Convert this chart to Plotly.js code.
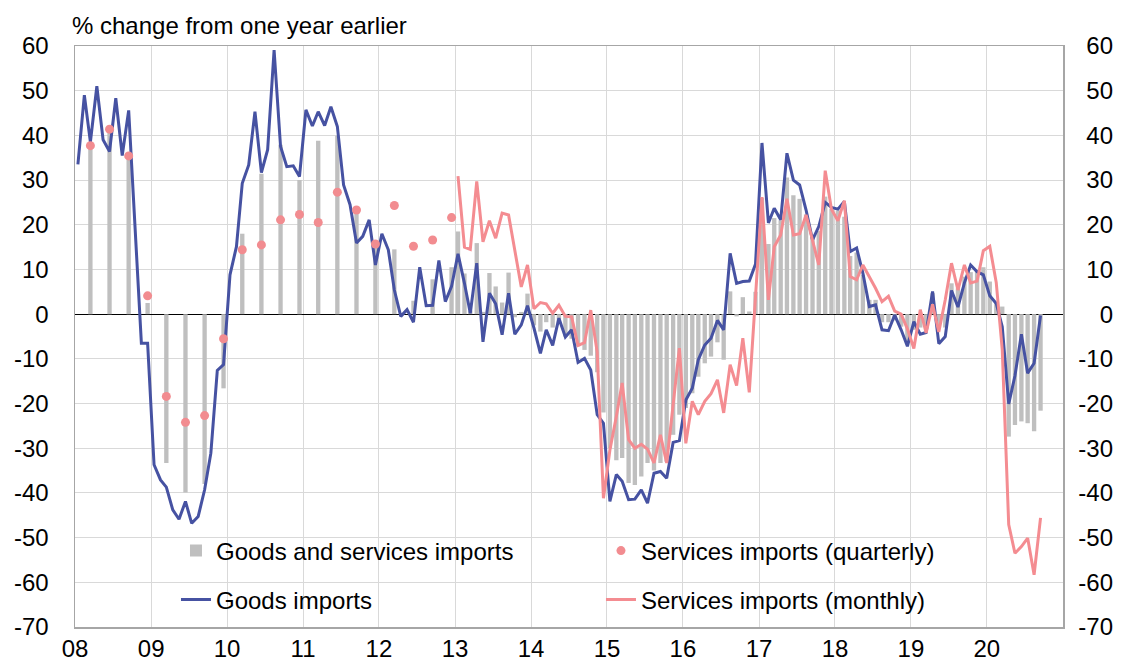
<!DOCTYPE html>
<html><head><meta charset="utf-8">
<script src="https://cdn.plot.ly/plotly-3.0.1.min.js"></script>
<style>html,body{margin:0;padding:0;background:#fff}#chart{width:1125px;height:664px}</style>
</head><body><div id="chart"></div>
<script>
// ---- data ----
const goodsStart = [2008, 1];
const goodsImports = [
  33.5, 49, 38.5, 51, 39, 36.4, 48.3, 35.5, 45.6, 19.5, -6.5, -6.5,
  -33.7, -37.1, -38.7, -43.8, -45.9, -41.9, -46.8, -45.3, -39.3, -31.1, -12.6, -11.3,
  8.8, 15.1, 29.3, 33.4, 45.3, 31.7, 36.8, 59.1, 37.5, 33, 33.2, 30.8,
  45.7, 42.1, 45.3, 42.2, 46.4, 42, 28.9, 24.5, 15.9, 17.4, 21.1, 11,
  18, 14.4, 5.4, -0.5, 1, -1.8, 10.5, 1.9, 2, 12, 2.8, 6.2,
  13.5, 6.9, 0.2, 11.4, -6.2, 4.7, 2.3, -4.6, 4.7, -4.5, -2.4, 1.9,
  -3.1, -8.8, -3.5, -7, -0.9, -5.1, -3.5, -10.8, -9.9, -12.5, -22.5, -24.4,
  -41.9, -35.9, -37.4, -41.5, -41.4, -39.3, -42.3, -35.6, -35.2, -36.7, -28.7, -28.3,
  -19.2, -16.6, -10.2, -6.9, -5.4, -1.4, -3.5, 13.6, 6.9, 7.3, 7.4, 11.2,
  38.3, 20.4, 23.7, 21.1, 36, 30, 28.9, 23.3, 16.6, 19.6, 25, 23.9,
  23.5, 25.2, 14, 14.8, 9.2, 1.7, 2.1, -3.5, -3.7, -0.2, -3.5, -7.2,
  -1.7, -4.5, -4.1, 5.1, -6.6, -5, 5.3, 1.6, 7, 11, 9.5, 8.8,
  4.1, 2.4, -2.8, -20.1, -13.8, -4.5, -13.2, -11, -0.3
];
const servicesMonthlyStart = [2013, 1];
const servicesMonthly = [
  30.9, 15, 14.5, 29.7, 16.2, 20.9, 17, 22.6, 22.2, 14, 6.1, 11,
  1.2, 2.6, 2.3, 0.2, 2, -0.5, -0.6, -7, -6.4, 0.9, -8.5, -41.2,
  -30.4, -22.9, -15.4, -28.1, -30, -29.1, -30.2, -33.3, -27, -33.3, -20.7, -7.6,
  -28.9, -19.5, -22.5, -19.5, -17.8, -14.7, -22.1, -11.3, -16, -5.4, -17.5, 4,
  26.2, 3.2, 15.1, 17.7, 25.8, 17.7, 18, 22.2, 16.6, 11, 32.1, 23.5,
  20.9, 25.4, 8.4, 7.7, 11, 8.4, 5.8, 2.8, 4, 0.7, 0, -3.3,
  -7.7, 1, -4.2, 2.2, -4, 3.2, 11.4, 5.4, 11, 7, 7.4, 14.2,
  15.2, 7.1, -8, -47.1, -53.5, -52, -50.1, -58.3, -45.6
];
const quarterlyStart = 2008;
const servicesQuarterly = [37.7, 41.4, 35.4, 4.1, -18.4, -24.2, -22.7, -5.5, 14.4, 15.5, 21.1, 22.3, 20.5, 27.3, 23.3, 15.7, 24.3, 15.2, 16.6, 21.6];
const gsQuarterly = [38, 41, 36, 2.5, -33.3, -39.9, -38, -16.6, 18, 31.4, 37.9, 30, 38.8, 39.9, 23.3, 15, 14.5, 3, 7.8, 10.5];
const gsMonthlyStart = [2013, 1];
const gsMonthly = [
  18.5, 9.1, 0.8, 15.9, 0.5, 9.2, 6.2, 2.6, 9.3, -0.7, 0.5, 4.6,
  -2.5, -3.9, -1.8, -3, -2, -5, -5.5, -7.2, -8, -9.3, -13, -22,
  -30, -32.7, -32.2, -37.8, -38.2, -36.3, -33.3, -35, -33.3, -33, -27, -22.5,
  -21, -17.7, -14, -11, -9.5, -6.3, -10.2, 5.1, -0.5, 3.8, 0.6, 5,
  26, 15.7, 21.5, 21, 30.6, 26.6, 25.8, 22.3, 17.8, 18.6, 26.3, 23.6,
  23.2, 21.8, 13, 13.8, 8.8, 3.2, 3.2, -1.8, -1.8, -1.4, -2.8, -6,
  -3.5, -3, -2.8, 4.7, -3, -3, 6.9, 5.8, 8.4, 9.4, 9.9, 10.5,
  7.3, 2.8, 1.7, -27.4, -24.8, -24, -24.4, -26.2, -21.6
];
const yearLabels = ['08','09','10','11','12','13','14','15','16','17','18','19','20'];
const yTicks = [60, 50, 40, 30, 20, 10, 0, -10, -20, -30, -40, -50, -60, -70];
const titleText = '% change from one year earlier';
const names = {
  gs: 'Goods and services imports',
  sq: 'Services imports (quarterly)',
  g: 'Goods imports',
  sm: 'Services imports (monthly)'
};

// ---- helpers ----
function pad(n){ return (n < 10 ? '0' : '') + n; }
function monthDates(start, n){
  const out = [];
  for (let i = 0; i < n; i++){
    const t = (start[0] * 12 + (start[1] - 1)) + i;
    out.push(Math.floor(t / 12) + '-' + pad(t % 12 + 1) + '-15');
  }
  return out;
}
function quarterDates(y0, n){
  const out = [];
  for (let i = 0; i < n; i++){
    const y = y0 + Math.floor(i / 4);
    const m = (i % 4) * 3 + 3;
    out.push(y + '-' + pad(m) + '-15');
  }
  return out;
}

const barX = quarterDates(quarterlyStart, gsQuarterly.length).concat(monthDates(gsMonthlyStart, gsMonthly.length));
const barY = gsQuarterly.concat(gsMonthly);

const FONT = 'Arial, "Liberation Sans", sans-serif';

const traces = [
  { type: 'bar', name: names.gs, x: barX, y: barY, width: 1.8e9,
    marker: { color: '#bfbfbf', line: { width: 0 } }, legend: 'legend', legendrank: 1 },
  { type: 'scatter', mode: 'lines', name: names.g, x: monthDates(goodsStart, goodsImports.length), y: goodsImports,
    line: { color: '#4652a2', width: 3 }, legend: 'legend2', legendrank: 3 },
  { type: 'scatter', mode: 'markers', name: names.sq, x: quarterDates(quarterlyStart, servicesQuarterly.length), y: servicesQuarterly,
    marker: { color: '#f28c90', size: 9 }, legend: 'legend', legendrank: 2 },
  { type: 'scatter', mode: 'lines', name: names.sm, x: monthDates(servicesMonthlyStart, servicesMonthly.length), y: servicesMonthly,
    yaxis: 'y2', line: { color: '#f48c91', width: 3 }, legend: 'legend2', legendrank: 4 }
];

const tickText = yTicks.map(v => String(v));
const yearVals = yearLabels.map(s => (2000 + parseInt(s, 10)) + '-01-01');

const layout = {
  width: 1125, height: 664,
  margin: { l: 75, r: 9, t: 46, b: 37 },
  paper_bgcolor: '#ffffff', plot_bgcolor: '#ffffff',
  font: { family: FONT, size: 24, color: '#000000' },
  showlegend: true,
  barmode: 'overlay',
  xaxis: {
    type: 'date', range: ['2008-01-01', '2021-01-01'], domain: [0, 0.9491],
    tickmode: 'array', tickvals: yearVals, ticktext: yearLabels,
    showgrid: true, gridcolor: '#d9d9d9', gridwidth: 1,
    showline: true, mirror: true, linecolor: '#a6a6a6', linewidth: 1.5,
    ticks: '', ticklabelstandoff: 0, zeroline: false,
    tickfont: { family: FONT, size: 24, color: '#000' }
  },
  yaxis: {
    range: [-70, 60], tickmode: 'array', tickvals: yTicks, ticktext: tickText,
    showgrid: true, gridcolor: '#d9d9d9', gridwidth: 1,
    zeroline: true, zerolinecolor: '#000000', zerolinewidth: 1,
    showline: true, mirror: true, linecolor: '#a6a6a6', linewidth: 1.5,
    ticks: '', ticklabelstandoff: 20,
    tickfont: { family: FONT, size: 24, color: '#000' }
  },
  yaxis2: {
    overlaying: 'y', side: 'right', anchor: 'free', position: 1,
    range: [-70, 60], tickmode: 'array', tickvals: yTicks, ticktext: tickText,
    ticklabelposition: 'inside', ticklabeloverflow: 'allow',
    showgrid: false, zeroline: false, showline: false, ticks: '',
    tickfont: { family: FONT, size: 24, color: '#000' }
  },
  legend: {
    orientation: 'h', x: 0.097, xanchor: 'left', y: 0.1308, yanchor: 'middle',
    bgcolor: 'rgba(0,0,0,0)', entrywidth: 380, entrywidthmode: 'pixels',
    font: { family: FONT, size: 24, color: '#000' }
  },
  legend2: {
    orientation: 'h', x: 0.097, xanchor: 'left', y: 0.0465, yanchor: 'middle',
    bgcolor: 'rgba(0,0,0,0)', entrywidth: 380, entrywidthmode: 'pixels',
    font: { family: FONT, size: 24, color: '#000' }
  },
  annotations: [{
    text: titleText, showarrow: false,
    xref: 'paper', x: 0, xanchor: 'left', xshift: -5,
    yref: 'paper', y: 1, yanchor: 'bottom', yshift: 5,
    font: { family: FONT, size: 24, color: '#000' }
  }]
};

Plotly.newPlot('chart', traces, layout, { displayModeBar: false, staticPlot: true });
</script>
</body></html>
